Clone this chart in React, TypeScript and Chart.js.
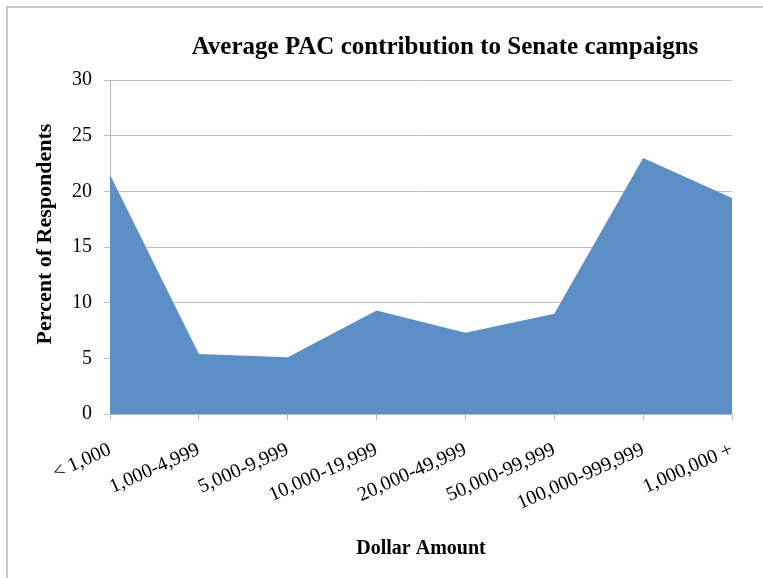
import React, { useEffect, useRef } from "react";
import { Chart, registerables } from "chart.js";

Chart.register(...registerables);

const categories = [
  "< 1,000",
  "1,000-4,999",
  "5,000-9,999",
  "10,000-19,999",
  "20,000-49,999",
  "50,000-99,999",
  "100,000-999,999",
  "1,000,000 +",
];
const percentValues = [21.5, 5.4, 5.1, 9.3, 7.3, 9.0, 23.0, 19.4];
const titleText = "Average PAC contribution to Senate campaigns";
const xTitle = "Dollar Amount";
const yTitle = "Percent of Respondents";

const FONT = "'Liberation Serif', 'DejaVu Serif', serif";

const textPlugin = {
  id: "extraText",
  afterDraw(chart: any) {
    const ctx = chart.ctx;
    ctx.save();
    ctx.fillStyle = "#000";
    ctx.textAlign = "center";
    ctx.textBaseline = "middle";
    ctx.font = `bold 25px ${FONT}`;
    ctx.fillText(titleText, 445, 48);
    ctx.translate(45, 234);
    ctx.rotate(-Math.PI / 2);
    ctx.font = `bold 22px ${FONT}`;
    ctx.fillText(yTitle, 0, 0);
    ctx.restore();
  },
};

export default function App() {
  const ref = useRef<HTMLCanvasElement | null>(null);
  useEffect(() => {
    if (!ref.current) return;
    const chart = new Chart(ref.current, {
      type: "line",
      data: {
        labels: categories,
        datasets: [
          {
            data: percentValues,
            fill: "origin",
            backgroundColor: "#5b8fc6",
            borderWidth: 0,
            borderColor: "#5b8fc6",
            pointRadius: 0,
            tension: 0,
          },
        ],
      },
      plugins: [textPlugin],
      options: {
        animation: false,
        responsive: false,
        layout: { padding: { left: 0, right: 31, top: 80, bottom: 0 } },
        plugins: {
          legend: { display: false },
          tooltip: { enabled: false },
          title: { display: false },
        },
        scales: {
          x: {
            type: "category",
            offset: false,
            grid: {
              display: true,
              drawOnChartArea: false,
              drawTicks: true,
              tickLength: 6,
              color: "#b8b8b8",
            },
            border: { display: true, color: "#b8b8b8", width: 1 },
            ticks: {
              color: "#000",
              font: { family: FONT, size: 20 },
              minRotation: 24,
              maxRotation: 24,
              padding: 18,
              autoSkip: false,
            },
            title: {
              display: true,
              text: xTitle,
              color: "#000",
              font: { family: FONT, size: 20, weight: "bold" },
              padding: { top: 0, bottom: 17 },
            },
            afterFit: (s: any) => {
              s.height = 164;
            },
          },
          y: {
            min: 0,
            max: 30,
            grid: {
              color: "#c0c0c0",
              tickLength: 6,
              drawTicks: true,
            },
            border: { display: true, color: "#b8b8b8", width: 1 },
            ticks: {
              stepSize: 5,
              color: "#000",
              font: { family: FONT, size: 20 },
              padding: 12,
            },
            afterFit: (s: any) => {
              s.width = 110;
            },
          },
        },
      },
    });
    return () => chart.destroy();
  }, []);

  return (
    <div style={{ position: "absolute", left: 0, top: 0, width: 763, height: 578, background: "#fff" }}>
      <div
        style={{
          position: "absolute",
          left: 6,
          top: 6,
          right: 0,
          bottom: 0,
          borderTop: "2px solid #c8c8c8",
          borderLeft: "2px solid #c8c8c8",
        }}
      />
      <canvas ref={ref} width={763} height={578} style={{ position: "absolute", left: 0, top: 0 }} />
    </div>
  );
}
